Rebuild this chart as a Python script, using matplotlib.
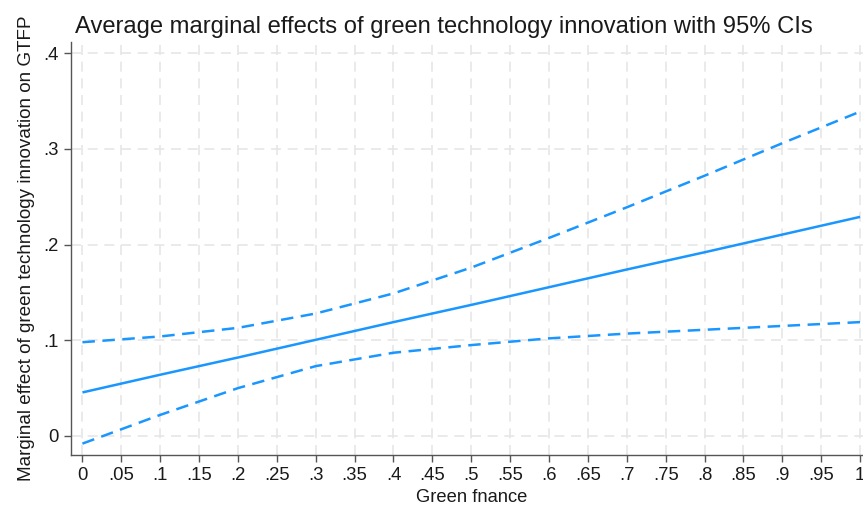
import matplotlib
matplotlib.use("Agg")
import matplotlib.pyplot as plt
import numpy as np

plt.rcParams['font.family'] = ['Liberation Sans', 'DejaVu Sans']

x = [0.0, 0.1, 0.2, 0.3, 0.4, 0.5, 0.6, 0.7, 0.8, 0.9, 1.0]
effect = [0.0455, 0.064, 0.082, 0.1005, 0.119, 0.137, 0.1555, 0.174, 0.192, 0.2105, 0.229]
upper = [0.098, 0.104, 0.113, 0.128, 0.149, 0.176, 0.207, 0.239, 0.272, 0.306, 0.339]
lower = [-0.008, 0.022, 0.050, 0.073, 0.087, 0.095, 0.102, 0.107, 0.111, 0.115, 0.119]

xticks = [0, .05, .1, .15, .2, .25, .3, .35, .4, .45, .5, .55, .6, .65, .7, .75, .8, .85, .9, .95, 1]
xticklabels = ['0', '.05', '.1', '.15', '.2', '.25', '.3', '.35', '.4', '.45', '.5', '.55', '.6', '.65',
               '.7', '.75', '.8', '.85', '.9', '.95', '1']
yticks = [0, .1, .2, .3, .4]
yticklabels = ['0', '.1', '.2', '.3', '.4']

W, H = 863, 508
fig = plt.figure(figsize=(W / 100, H / 100), dpi=100)
left_px, right_px, top_px, bottom_px = 71, 871.5, 42, 455
ax = fig.add_axes([left_px / W, 1 - bottom_px / H, (right_px - left_px) / W, (bottom_px - top_px) / H])

color = '#1a96ff'
ax.plot(x, effect, color=color, lw=1.8, solid_capstyle='butt')
ax.plot(x, upper, color=color, lw=1.8, dashes=(5, 3))
ax.plot(x, lower, color=color, lw=1.8, dashes=(5, 3))

ax.set_xlim(-0.0147, 1.0147)
ax.set_ylim(-0.0199, 0.4118)
ax.set_xticks(xticks)
ax.set_xticklabels(xticklabels)
ax.set_yticks(yticks)
ax.set_yticklabels(yticklabels)

ax.grid(True, color='#e6e6e6', lw=1.2, dashes=(6, 4))
ax.set_axisbelow(True)
for s in ['top', 'right']:
    ax.spines[s].set_visible(False)
for s in ['left', 'bottom']:
    ax.spines[s].set_color('#555555')
    ax.spines[s].set_linewidth(1.0)
ax.tick_params(axis='both', direction='out', length=5, width=1, color='#555555',
               labelsize=13.3, labelcolor='#1a1a1a', pad=4)

ax.set_xlabel('Green fnance', fontsize=13.2, color='#1a1a1a', labelpad=3)
ax.set_ylabel('Marginal effect of green technology innovation on GTFP', fontsize=13.6,
              color='#1a1a1a', labelpad=6)
fig.text(75 / W, 1 - 27 / H, 'Average marginal effects of green technology innovation with 95% CIs',
         fontsize=17.1, color='#1a1a1a', ha='left', va='center')

fig.savefig('out.png', dpi=100)
